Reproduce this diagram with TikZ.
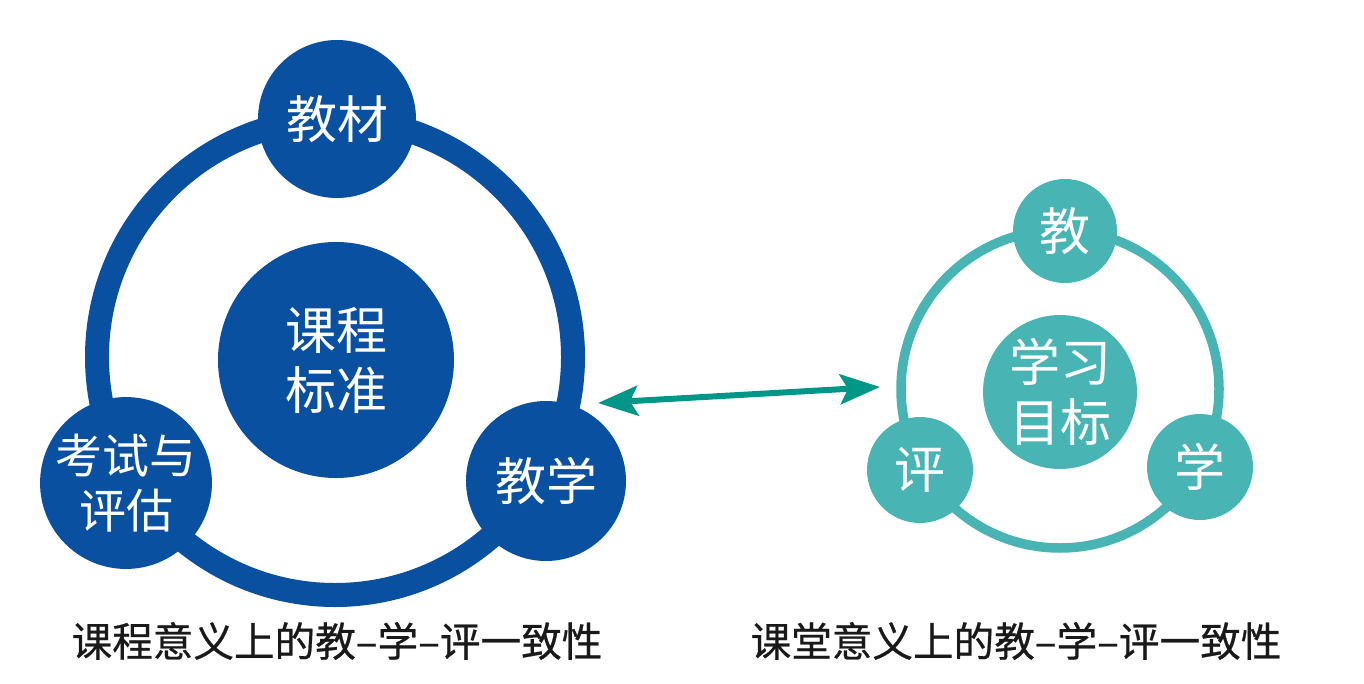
\documentclass[tikz,border=0pt]{standalone}
\usepackage{fontspec}
\setmainfont{Noto Sans CJK SC}
\newfontfamily\capfont[FakeBold=0.6]{Noto Sans CJK SC}
\usetikzlibrary{arrows.meta}
\definecolor{dblue}{RGB}{10,80,160}
\definecolor{lteal}{RGB}{72,180,180}
\definecolor{ateal}{RGB}{0,150,136}
\definecolor{captxt}{RGB}{25,25,25}
\begin{document}
\begin{tikzpicture}[x=0.5pt,y=-0.5pt,
  bubble/.style={circle,fill=#1,text=white,inner sep=0pt,align=center},
  bigtxt/.style={font=\fontsize{25.5pt}{30pt}\selectfont},
  midtxt/.style={font=\fontsize{23.5pt}{27.5pt}\selectfont},
  caption/.style={text=captxt,inner sep=0pt,font=\capfont\fontsize{20.3pt}{22pt}\selectfont},
  link/.style={ateal,line width=3pt,
    {Stealth[length=20pt,width=15pt,inset=4pt]}-{Stealth[length=20pt,width=15pt,inset=4pt]}}]
\useasboundingbox (0,0) rectangle (1364,684);
% left ring
\coordinate (lc) at (335,357);
\draw[dblue,line width=12pt] (lc) circle[radius=119pt];
\node[bubble=dblue,minimum size=118pt,bigtxt] (kcbz) at (336,360) {课程\\标准};
\node[bubble=dblue,minimum size=79pt,bigtxt] (jc) at (337,119) {教材};
\node[bubble=dblue,minimum size=80pt,midtxt] (ks) at (126,483) {考试与\\评估};
\node[bubble=dblue,minimum size=80pt,bigtxt] (jx) at (546,481) {教学};
% right ring
\coordinate (rc) at (1060,389);
\draw[lteal,line width=4.75pt] (rc) circle[radius=79.5pt];
\node[bubble=lteal,minimum size=77pt,bigtxt] (xxmb) at (1060,392) {学习\\目标};
\node[bubble=lteal,minimum size=52pt,bigtxt] (j) at (1065,231) {教};
\node[bubble=lteal,minimum size=53pt,bigtxt] (p) at (920,470) {评};
\node[bubble=lteal,minimum size=53pt,bigtxt] (x) at (1200,467) {学};
% arrow
\coordinate (aL) at (598,403);
\coordinate (aR) at (880,387);
\draw[link] (aL) -- (aR);
% captions
\node[caption] (capL) at (337,641) {课程意义上的教–学–评一致性};
\node[caption] (capR) at (1016,641) {课堂意义上的教–学–评一致性};
\end{tikzpicture}
\end{document}
